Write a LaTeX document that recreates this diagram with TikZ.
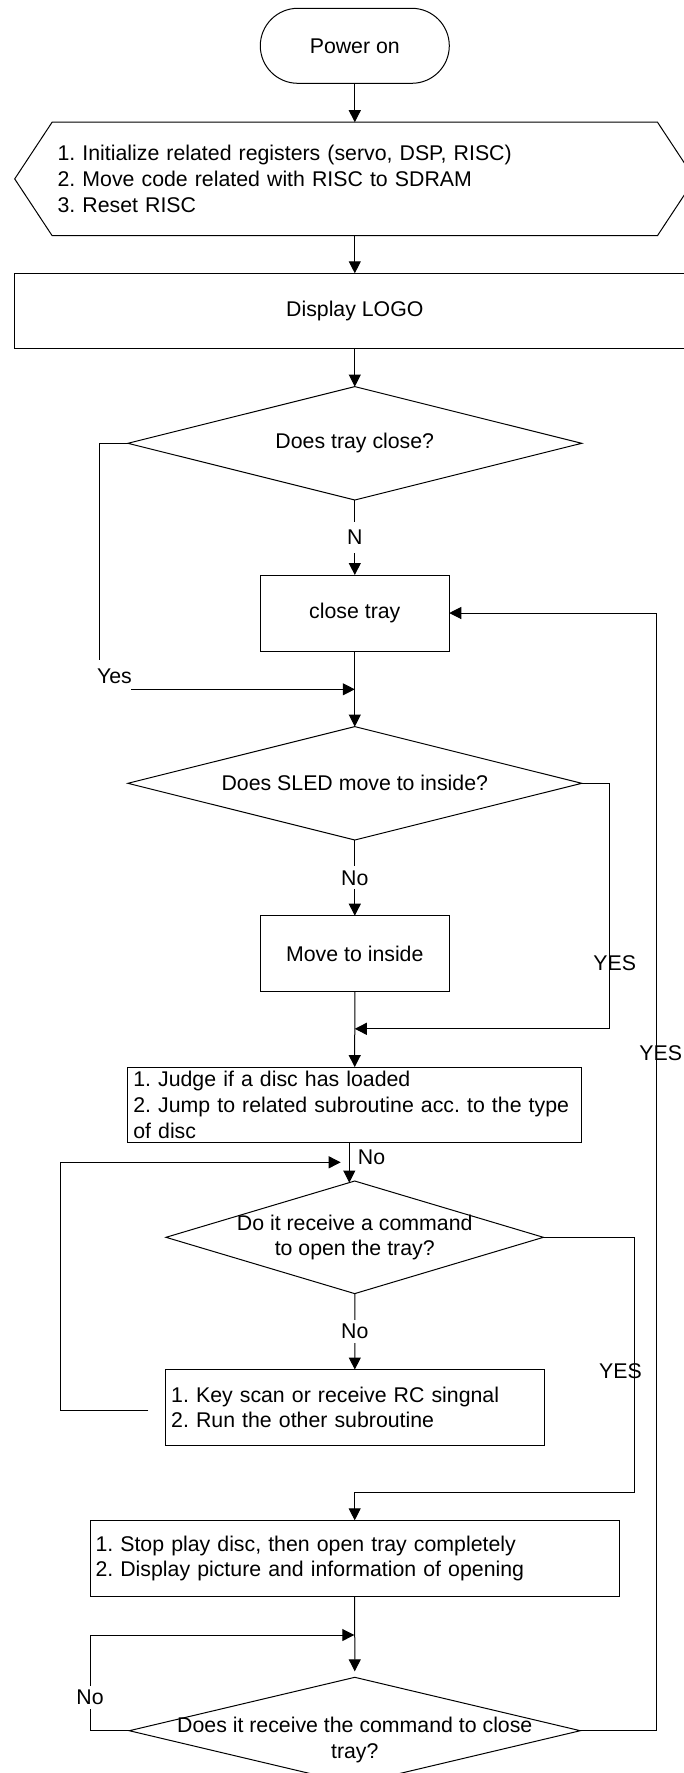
\documentclass[tikz,border=0pt]{standalone}
\usepackage{fontspec}
\setmainfont{Liberation Sans}
\usetikzlibrary{arrows.meta,shapes.geometric,calc}
\begin{document}
\frenchspacing
\begin{tikzpicture}[x=1pt,y=-1pt,
  font=\fontsize{21.3pt}{25.6pt}\selectfont\frenchspacing,
  line/.style={line width=1pt, draw=black},
  arr/.style={line, -{Triangle[length=12pt,width=12pt]}},
  proc/.style={draw, line width=1pt, rectangle, inner sep=0pt, outer sep=0pt},
  listbox/.style={proc, align=left, inner xsep=5.5pt},
  dec/.style={diamond, draw, line width=1pt, inner sep=0pt, outer sep=0pt},
  term/.style={draw, line width=1pt, rounded corners=37.5pt, minimum width=189pt, minimum height=75pt, inner sep=0pt},
  lbl/.style={inner sep=0pt},
  gaplbl/.style={fill=white, inner xsep=2pt, inner ysep=4pt},
]
\path[use as bounding box] (0,0) rectangle (684,1773);
\clip (0,0) rectangle (684,1773);
\fill[white] (0,0) rectangle (684,1773);

% nodes
\node[term] (start) at (354.8,45.8) {Power on};
\node[listbox, draw=none, minimum width=605.4pt, minimum height=113.4pt, text width=594.4pt] (init) at (354.8,178.9)
  {1. Initialize related registers (servo, DSP, RISC)\\2. Move code related with RISC to SDRAM\\3. Reset RISC};
\draw[line] (init.north west) -- (init.north east) -- ($(init.east)+(37.4,0)$) -- (init.south east)
  -- (init.south west) -- ($(init.west)+(-37.4,0)$) -- cycle;
\node[proc, minimum width=681pt, minimum height=75.4pt] (logo) at (354.8,311) {Display LOGO};
\node[dec, minimum width=453.8pt, minimum height=113.4pt] (d1) at (354.8,443.3) {};
\node (d1t) at (d1.center) {Does tray close?};
\node[proc, minimum width=188.9pt, minimum height=76pt] (close) at (354.8,613) {close tray};
\node[dec, minimum width=453.8pt, minimum height=113.4pt] (d2) at (354.8,783.3) {};
\node (d2t) at (d2.center) {Does SLED move to inside?};
\node[proc, minimum width=188.9pt, minimum height=76pt] (move) at (354.8,953.7) {Move to inside};
\node[listbox, minimum width=453.8pt, minimum height=75.5pt, text width=442.8pt] (judge) at (354.7,1104.8)
  {1. Judge if a disc has loaded\\2. Jump to related subroutine acc. to the type\\of disc};
\node[dec, minimum width=377.4pt, minimum height=112.6pt] (d3) at (354.7,1237.3) {};
\node[align=center] (d3t) at (d3.center) {Do it receive a command\\to open the tray?};
\node[listbox, minimum width=378.3pt, minimum height=75.5pt, text width=367.3pt] (key) at (354.85,1407.25)
  {1. Key scan or receive RC singnal\\2. Run the other subroutine};
\node[listbox, minimum width=529.4pt, minimum height=76pt, text width=518.4pt] (stop) at (354.7,1558.3)
  {1. Stop play disc, then open tray completely\\2. Display picture and information of opening};
\node[dec, minimum width=451pt, minimum height=106.8pt] (d4) at (354.8,1730.7) {};
\node[align=center] (d4t) at (354.8,1740) {Does it receive the command to close\\tray?};

% coordinates
\coordinate (yc) at (99.5,660);
\coordinate (yesend) at (131,689.3);
\coordinate (j1) at (354.8,689.3);
\coordinate (j2) at (354.8,1028.8);
\coordinate (lp1) at (148.3,1410);
\coordinate (lp2) at (340.7,1162.3);
\coordinate (j4) at (354.3,1635);
\coordinate (rr) at (656.6,1730.7);

% connectors
\draw[arr] (start) -- (init);
\draw[arr] (init) -- (logo);
\draw[arr] (logo) -- (d1);
\draw[arr] (d1) -- node[gaplbl, inner ysep=8pt] (lN) {N} (close);
\draw[line] (d1.west) -| (yc);
\node[lbl] (lyes) at (114.5,676.7) {Yes};
\draw[arr] (yesend) -- (j1);
\draw[arr] (close) -- (d2);
\draw[arr] (d2) -- node[gaplbl] (lNo1) {No} (move);
\draw[arr] (d2.east) -- ++(27.8,0) |- (j2);
\node[lbl] (lYES1) at (614.7,963.3) {YES};
\draw[arr] (move) -- (judge);
\draw[arr] ($(judge.south)+(-5.4,0)$) -- ($(d3.north)+(-5.4,1.6)$);
\node[lbl, anchor=west] (lNo2) at (357.7,1157.7) {No};
\draw[arr] (lp1) -| (60,1162.3) -- (lp2);
\draw[arr] (d3) -- node[gaplbl] (lNo3) {No} (key);
\draw[arr] (d3.east) -- ++(90.7,0) |- ($(stop.north)+(0,-27.6)$) -- (stop.north);
\node[lbl] (lYES2) at (620.5,1370.9) {YES};
\draw[arr, shorten >=6pt] (stop) -- (d4);
\draw[arr] (d4.west) -| (90,1635) -- (j4);
\node[gaplbl] (lNo4) at (90,1697.3) {No};
\draw[arr] (d4.east) -- (rr) |- (close.east);
\node[lbl] (lYES3) at (660.8,1053.3) {YES};
\end{tikzpicture}
\end{document}
